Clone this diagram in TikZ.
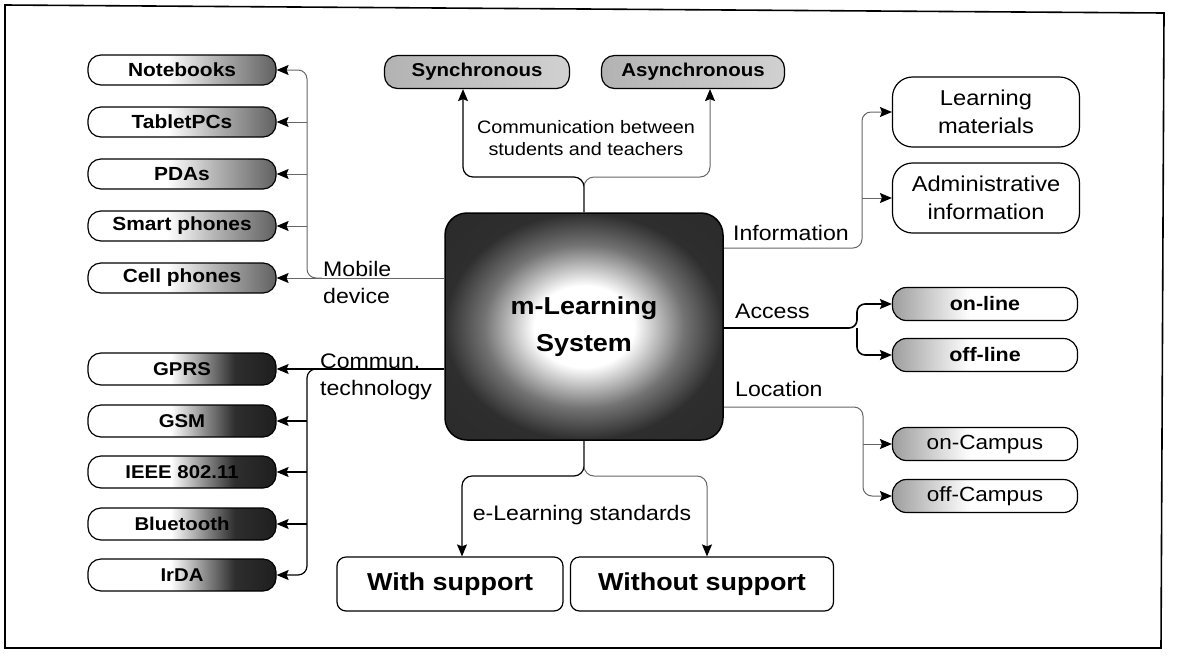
\documentclass[tikz,border=0pt]{standalone}
\usepackage{fontspec}
\setmainfont{Liberation Sans}[FakeStretch=1.1]
\usetikzlibrary{arrows.meta}
\pgfdeclarehorizontalshading{mobsh}{100bp}{color(0bp)=(white); color(25bp)=(white); color(46bp)=(white); color(58bp)=(black!28); color(75bp)=(black!62); color(100bp)=(black!62)}
\pgfdeclarehorizontalshading{comsh}{100bp}{color(0bp)=(white); color(25bp)=(white); color(47bp)=(white); color(56bp)=(black!45); color(64bp)=(black!82); color(75bp)=(black!88); color(100bp)=(black!88)}
\pgfdeclarehorizontalshading{synsh}{100bp}{color(0bp)=(black!30); color(25bp)=(black!30); color(75bp)=(black!18); color(100bp)=(black!18)}
\pgfdeclarehorizontalshading{accsh}{100bp}{color(0bp)=(black!38); color(25bp)=(black!38); color(46bp)=(white); color(100bp)=(white)}
\pgfdeclareradialshading{mlsh}{\pgfpoint{0bp}{0bp}}{color(0bp)=(white); color(9bp)=(white); color(18bp)=(black!55); color(25bp)=(black!82); color(50bp)=(black!85)}
\tikzset{
  basebox/.style={draw=black, line width=1.2pt, inner sep=0pt, align=center},
  mob/.style={basebox, rounded corners=13pt, minimum width=188pt, minimum height=30pt, shade, shading=mobsh, font=\bfseries\fontsize{19}{22}\selectfont},
  com/.style={basebox, rounded corners=13pt, minimum width=188pt, minimum height=32pt, shade, shading=comsh, font=\bfseries\fontsize{18.5}{22}\selectfont},
  syn/.style={basebox, rounded corners=13pt, minimum height=33pt, shade, shading=synsh, font=\bfseries\fontsize{18.6}{22}\selectfont},
  accb/.style={basebox, rounded corners=14pt, minimum width=185pt, minimum height=33pt, shade, shading=accsh, font=\bfseries\fontsize{19.5}{22}\selectfont},
  accr/.style={accb, font=\fontsize{20.5}{22}\selectfont},
  wbox/.style={basebox, rounded corners=20pt, minimum width=187pt, minimum height=70pt, fill=white, font=\fontsize{21.5}{28}\selectfont},
  supbox/.style={basebox, rounded corners=9pt, minimum height=54pt, fill=white, font=\bfseries\fontsize{24.5}{28}\selectfont},
  mlsbox/.style={draw=black, line width=1.5pt, rounded corners=22pt, minimum width=278pt, minimum height=227pt, shade, shading=mlsh, align=center, font=\bfseries\fontsize{24.5}{37}\selectfont},
  lbl/.style={inner sep=0pt, font=\fontsize{21}{27}\selectfont},
  dk/.style={draw=black, line width=1.2pt},
  lt/.style={draw=black!60, line width=1pt},
  arr/.style={-{Stealth[length=12pt,width=10pt,inset=2pt,color=black]}}
}
\begin{document}
\begin{tikzpicture}[x=1pt,y=-1pt]
\useasboundingbox (0,0) rectangle (1181,657);
\fill[white] (0,0) rectangle (1181,657);
\draw[line width=1.6pt] (5,5) -- (1164,13) -- (1161,648) -- (5,648) -- cycle;

% central system
\node[mlsbox] (mls) at (584,326.5) {m-Learning\\System};

% mobile devices
\node[mob] (nb) at (182,70) {Notebooks};
\node[mob] (tab) at (182,122) {TabletPCs};
\node[mob] (pda) at (182,174) {PDAs};
\node[mob] (sp) at (182,226) {Smart phones};
\node[mob] (cp) at (182,278) {Cell phones};

% communication technologies
\node[com] (gprs) at (182,369) {GPRS};
\node[com] (gsm) at (182,421) {GSM};
\node[com] (ieee) at (182,472) {IEEE 802.11};
\node[com] (bt) at (182,524) {Bluetooth};
\node[com] (irda) at (182,575) {IrDA};

% top
\node[syn, minimum width=185pt] (syn) at (477,72) {Synchronous};
\node[syn, minimum width=183pt] (asyn) at (693,72) {Asynchronous};

% right
\node[wbox] (lm) at (986,112) {Learning\\materials};
\node[wbox] (adm) at (986,198) {Administrative\\information};
\node[accb] (onl) at (985,304) {on-line};
\node[accb] (offl) at (985,355) {off-line};
\node[accr] (onc) at (985,444) {on-Campus};
\node[accr] (offc) at (985,496) {off-Campus};

% bottom
\node[supbox, minimum width=226pt] (ws) at (450,584) {With support};
\node[supbox, minimum width=263pt] (wos) at (702,584) {Without support};

% labels
\node[lbl, anchor=west, align=left] (lmob) at (323,282) {Mobile\\device};
\node[lbl, anchor=west, align=left] (lcom) at (320,377) {Commun.\\technology};
\node[lbl, align=center, font=\fontsize{18}{22}\selectfont] (lcbt) at (586,138) {Communication between\\students and teachers};
\node[lbl, anchor=west] (linf) at (733,233) {Information};
\node[lbl, anchor=west] (lacc) at (735,311) {Access};
\node[lbl, anchor=west] (lloc) at (735,389) {Location};
\node[lbl] (lels) at (582,515) {e-Learning standards};

% coordinates for buses
\coordinate (mb0) at (322,278);
\coordinate (mb) at (307,278);
\coordinate (cb0) at (330,369);
\coordinate (cb) at (307,369);
\coordinate (tl) at (463,177);
\coordinate (tr) at (710,177);
\coordinate (ib) at (862,248);
\coordinate (ab) at (857,328);
\coordinate (lb) at (863,407);
\coordinate (bl) at (462,476);
\coordinate (br) at (707,476);

% mobile device connectors
\draw[lt,arr] (mls.west |- cp.east) -- (cp.east);
\draw[lt,arr,rounded corners=9pt] (mb0) -- (mb) |- (nb.east);
\draw[lt,arr] (mb |- tab.east) -- (tab.east);
\draw[lt,arr] (mb |- pda.east) -- (pda.east);
\draw[lt,arr] (mb |- sp.east) -- (sp.east);

% communication technology connectors
\draw[dk,arr] (mls.west |- gprs.east) -- (gprs.east);
\draw[dk,arr,rounded corners=9pt] (cb0) -- (cb) |- (irda.east);
\draw[dk,arr] (cb |- gsm.east) -- (gsm.east);
\draw[dk,arr] (cb |- ieee.east) -- (ieee.east);
\draw[dk,arr] (cb |- bt.east) -- (bt.east);

% communication between students and teachers
\draw[dk,arr,rounded corners=10pt] (mls.north) |- (tl) -- (tl |- syn.south);
\draw[lt,arr,rounded corners=10pt] (mls.north) |- (tr) -- (tr |- asyn.south);

% information
\draw[lt,arr,rounded corners=9pt] (mls.east |- ib) -- (ib) |- (lm.west);
\draw[lt,arr] (ib |- adm.west) -- (adm.west);

% access
\draw[dk,line width=1.6pt,arr,rounded corners=8pt] (mls.east |- ab) -- (ab) |- (onl.west);
\draw[dk,line width=1.6pt,arr,rounded corners=8pt] (ab) |- (offl.west);

% location
\draw[lt,arr,rounded corners=9pt] (mls.east |- lb) -- (lb) |- (offc.west);
\draw[lt,arr] (lb |- onc.west) -- (onc.west);

% e-learning standards
\draw[dk,arr,rounded corners=10pt] (mls.south) |- (bl) -- (bl |- ws.north);
\draw[lt,arr,rounded corners=10pt] (mls.south) |- (br) -- (br |- wos.north);
\end{tikzpicture}
\end{document}
